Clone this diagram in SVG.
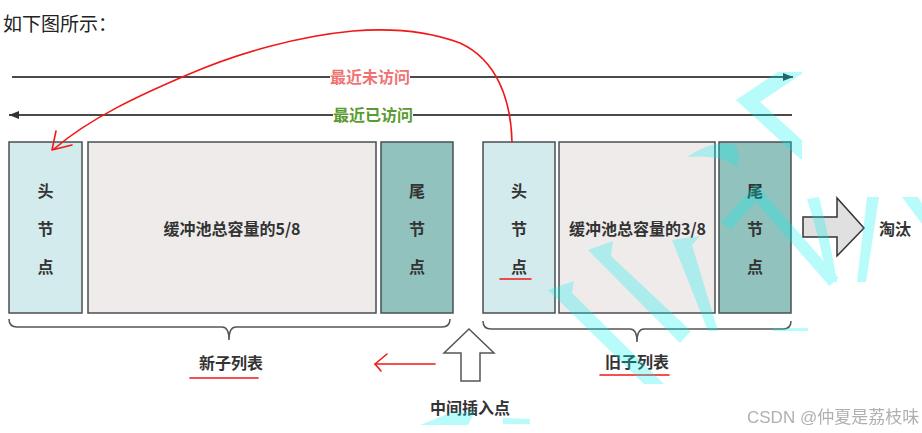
<svg xmlns="http://www.w3.org/2000/svg" width="922" height="433" viewBox="0 0 922 433">
<defs>
<style>
.t{font-family:"Noto Sans CJK SC","Noto Sans",sans-serif;font-weight:bold;font-size:16px;fill:#333;text-anchor:middle}
.box{stroke:#4a4f52;stroke-width:1.5}
.head{fill:#d3ebec}
.mid{fill:#efebea}
.tail{fill:#91c2bd}
.ln{stroke:#4a4a4a;stroke-width:2;fill:none}
.brace{stroke:#555;stroke-width:1.5;fill:none}
.red{stroke:#f01818;stroke-width:1.6;fill:none;stroke-linecap:round;stroke-linejoin:round}
.wm{fill:#00f0f0}
</style>
<marker id="ah" viewBox="0 0 10 8" refX="10" refY="4" markerWidth="10" markerHeight="8" markerUnits="userSpaceOnUse" orient="auto">
<path d="M0,0 L10,4 L0,8 Z" fill="#333"/>
</marker>
<clipPath id="wclip"><rect x="0" y="72" width="802" height="200"/></clipPath>
</defs>
<rect width="922" height="433" fill="#fff"/>
<text x="3" y="31" font-family="'Noto Sans CJK SC','Noto Sans',sans-serif" font-size="19" fill="#222">如下图所示：</text>

<g id="connectors">
<line class="ln" x1="12" y1="77" x2="793" y2="77" marker-end="url(#ah)"/>
<line class="ln" x1="792" y1="115" x2="9" y2="115" marker-end="url(#ah)"/>
<rect x="330" y="67" width="80" height="20" fill="#fff"/>
<text class="t" x="370" y="83" style="fill:#f07272">最近未访问</text>
<rect x="333" y="105" width="80" height="20" fill="#fff"/>
<text class="t" x="373" y="121" style="fill:#5a9a30">最近已访问</text>
<path class="brace" d="M9,319 Q9,327 17,327 L222,327 Q229,327 229,340 Q229,327 236,327 L442,327 Q450,327 450,319"/>
<path class="brace" d="M483,321 Q483,329 491,329 L630,329 Q637,329 637,342 Q637,329 644,329 L783,329 Q791,329 791,321"/>
</g>

<g id="new-head"><rect class="box head" x="9" y="142" width="73" height="171"/>
<text class="t" x="45.5" y="197">头</text><text class="t" x="45.5" y="235">节</text><text class="t" x="45.5" y="273">点</text></g>
<g id="new-mid"><rect class="box mid" x="88" y="142" width="288" height="171"/>
<text class="t" x="232" y="235">缓冲池总容量的5/8</text></g>
<g id="new-tail"><rect class="box tail" x="381" y="142" width="72" height="171"/>
<text class="t" x="417" y="197">尾</text><text class="t" x="417" y="235">节</text><text class="t" x="417" y="273">点</text></g>

<g id="old-head"><rect class="box head" x="483" y="142" width="72" height="171"/>
<text class="t" x="519" y="197">头</text><text class="t" x="519" y="235">节</text><text class="t" x="519" y="273">点</text></g>
<g id="old-mid"><rect class="box mid" x="559" y="142" width="156" height="171"/>
<text class="t" x="637.5" y="235">缓冲池总容量的3/8</text></g>
<g id="old-tail"><rect class="box tail" x="719" y="142" width="72" height="171"/>
<text class="t" x="755" y="197">尾</text><text class="t" x="755" y="235">节</text><text class="t" x="755" y="273">点</text></g>

<g id="evict">
<path d="M803,217 L837,217 L837,198 L864,228 L837,256 L837,237 L803,237 Z" fill="#e0e0e0" stroke="#333" stroke-width="1.5" stroke-linejoin="miter"/>
<text class="t" x="895" y="235">淘汰</text>
</g>

<g id="new-list"><text class="t" x="231" y="369">新子列表</text></g>
<g id="old-list"><text class="t" x="637" y="368">旧子列表</text></g>

<g id="insert">
<path d="M469,329 L494,353 L480,353 L480,381 L461,381 L461,353 L444,353 Z" fill="#fff" stroke="#555" stroke-width="1.5"/>
<text class="t" x="470" y="414">中间插入点</text>
</g>

<g id="annotations">
<path class="red" d="M512,142 C511,100 497,60 460,43 C425,30 390,28 353,31 C300,36 240,52 187,75 C140,95 90,118 54,149"/>
<path class="red" d="M56,131 L52,150 L72,145"/>
<line class="red" x1="435" y1="364" x2="375" y2="364"/>
<path class="red" d="M387,354 L375,364 L381,371"/>
<line class="red" x1="190" y1="378" x2="258" y2="378"/>
<line class="red" x1="600" y1="375" x2="669" y2="375"/>
<line class="red" x1="500" y1="279" x2="531" y2="279"/>
</g>

<g id="watermark" opacity="0.28">
<polyline points="800,66 748,101 806,154" fill="none" stroke="#00f0f0" stroke-width="15" clip-path="url(#wclip)"/>
<path class="wm" d="M687,157 Q712,140 733,144 Q742,152 737,167 Q720,154 687,157 Z"/>
<polyline points="726,226 756,193 834,282" fill="none" stroke="#00f0f0" stroke-width="12"/>
<path class="wm" d="M807,199 L819,197 Q830,240 837,282 L828,282 Q820,240 807,199 Z"/>
<path class="wm" d="M867,197 L879,197 L866,282 L857,282 Z"/>
<path class="wm" d="M902,197 L918,197 L922,204 L922,224 Z"/>
<path class="wm" d="M548,290 L574,281 L572,293 L664,384 L644,384 Z"/>
<path class="wm" d="M588,250 L613,241 L611,256 L691,331 L680,343 Z"/>
<path class="wm" d="M672,240 L700,236 L692,245 L718,331 L708,331 Z"/>
<path class="wm" d="M420,425 L450,413 L475,411 L468,425 Z"/>
<path class="wm" d="M503,418 L530,419 L530,424 L503,424 Z"/>
<path class="wm" d="M773,328 L808,328 L808,331 L773,331 Z"/>
</g>

<text x="747" y="423" font-family="'Liberation Sans','Noto Sans CJK SC',sans-serif" font-size="17" fill="#b0b0b0">CSDN @仲夏是荔枝味</text>
</svg>
